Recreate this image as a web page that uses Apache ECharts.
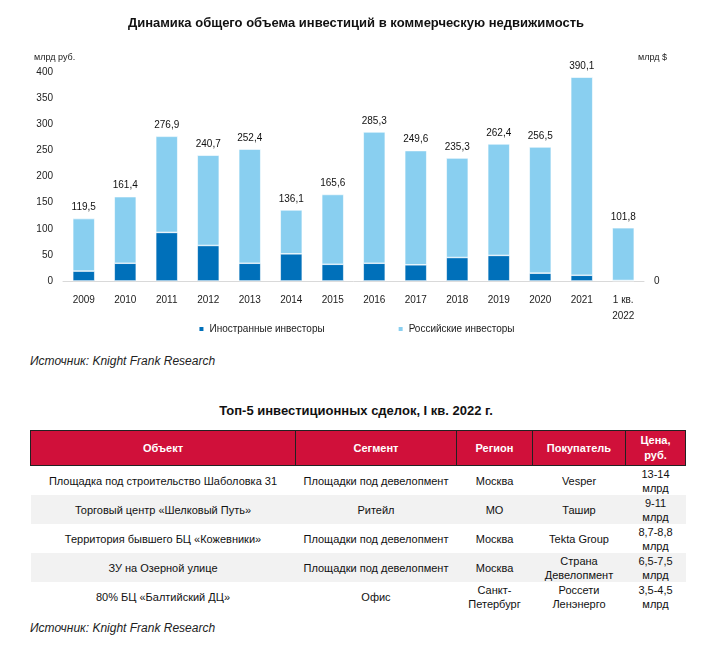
<!DOCTYPE html>
<html>
<head>
<meta charset="utf-8">
<script src="https://cdn.jsdelivr.net/npm/echarts@6/dist/echarts.min.js"></script>
<style>
  html, body { margin: 0; padding: 0; background: #fff; width: 712px; height: 654px; overflow: hidden; font-family: "Liberation Sans", Arial, sans-serif; }
  #chart { position: absolute; left: 0; top: 0; width: 712px; height: 345px; }
  .src { position: absolute; left: 30px; font-style: italic; font-size: 12px; color: #222; }
  #ttitle { position: absolute; left: 0; width: 712px; top: 403px; text-align: center; font-weight: bold; font-size: 13px; color: #111; }
  table { position: absolute; left: 30px; top: 430px; width: 655px; border-collapse: collapse; font-family: "Liberation Sans Narrow", "Arial Narrow", "Liberation Sans", sans-serif; font-size: 11px; color: #111; table-layout: fixed; }
  th { background: #D0103A; color: #fff; font-weight: bold; height: 34px; border: 1px solid #222; padding: 0 2px; line-height: 15px; white-space: pre-line; }
  td { text-align: center; padding: 0 2px; line-height: 14px; white-space: pre-line; }
  tr.r td { height: 29px; }
  tr.alt td { background: #F2F2F2; }
</style>
</head>
<body>
<div id="chart"></div>
<div class="src" style="top:354px;">Источник: Knight Frank Research</div>
<div id="ttitle">Топ-5 инвестиционных сделок, I кв. 2022 г.</div>
<table id="tbl"></table>
<div class="src" style="top:621px;">Источник: Knight Frank Research</div>
<script>
// ---- chart data ----
const categories = ['2009','2010','2011','2012','2013','2014','2015','2016','2017','2018','2019','2020','2021','1 кв.\n2022'];
const totals = [119.5, 161.4, 276.9, 240.7, 252.4, 136.1, 165.6, 285.3, 249.6, 235.3, 262.4, 256.5, 390.1, 101.8];
const foreign = [19, 34, 93, 68, 34, 52, 32, 34, 31, 45, 49, 15, 11, 1];
const russian = totals.map((t, i) => +(t - foreign[i]).toFixed(1));
const yTicks = [0, 50, 100, 150, 200, 250, 300, 350, 400];
const seriesNames = ['Иностранные инвесторы', 'Российские инвесторы'];

// ---- table data ----
const tableHeader = ['Объект', 'Сегмент', 'Регион', 'Покупатель', 'Цена,\nруб.'];
const tableRows = [
  ['Площадка под строительство Шаболовка 31', 'Площадки под девелопмент', 'Москва', 'Vesper', '13-14\nмлрд'],
  ['Торговый центр «Шелковый Путь»', 'Ритейл', 'МО', 'Ташир', '9-11\nмлрд'],
  ['Территория бывшего БЦ «Кожевники»', 'Площадки под девелопмент', 'Москва', 'Tekta Group', '8,7-8,8\nмлрд'],
  ['ЗУ на Озерной улице', 'Площадки под девелопмент', 'Москва', 'Страна\nДевелопмент', '6,5-7,5\nмлрд'],
  ['80% БЦ «Балтийский ДЦ»', 'Офис', 'Санкт-\nПетербург', 'Россети\nЛенэнерго', '3,5-4,5\nмлрд']
];
const colWidths = [265, 161, 76, 93, 60];

// build table
const tbl = document.getElementById('tbl');
let html = '<colgroup>' + colWidths.map(w => '<col style="width:' + w + 'px">').join('') + '</colgroup>';
html += '<tr>' + tableHeader.map(h => '<th>' + h + '</th>').join('') + '</tr>';
tableRows.forEach((row, i) => {
  html += '<tr class="r' + (i % 2 === 1 ? ' alt' : '') + '">' + row.map(c => '<td>' + c + '</td>').join('') + '</tr>';
});
tbl.innerHTML = html;

// chart
const chart = echarts.init(document.getElementById('chart'));
const fmt = v => String(v).replace('.', ',');
chart.setOption({
  animation: false,
  textStyle: { fontFamily: 'Liberation Sans, Arial, sans-serif' },
  title: {
    text: 'Динамика общего объема инвестиций в коммерческую недвижимость',
    left: 'center', top: 12,
    textStyle: { fontSize: 13, fontWeight: 'bold', color: '#111' }
  },
  legend: {
    data: seriesNames,
    top: 319, left: 'center',
    itemWidth: 6, itemHeight: 6, itemGap: 72,
    icon: 'rect',
    textStyle: { fontSize: 10, color: '#222' }
  },
  grid: { left: 63, right: 68, top: 72, bottom: 64 },
  xAxis: {
    type: 'category',
    data: categories,
    axisLine: { lineStyle: { color: '#D9D9D9' } },
    axisTick: { show: false },
    axisLabel: { fontSize: 10, color: '#222', margin: 11, lineHeight: 16 }
  },
  yAxis: [
    {
      type: 'value', min: 0, max: 400, interval: 50,
      axisLine: { show: false }, axisTick: { show: false },
      splitLine: { show: false },
      axisLabel: { fontSize: 10, color: '#222', margin: 10 }
    },
    {
      type: 'value', min: 0, max: 400, interval: 400, position: 'right',
      axisLine: { show: false }, axisTick: { show: false },
      splitLine: { show: false },
      axisLabel: { fontSize: 10, color: '#222', margin: 10, formatter: v => v === 0 ? '0' : '' }
    }
  ],
  graphic: [
    { type: 'text', left: 34, top: 53, style: { text: 'млрд руб.', fontSize: 9, fill: '#222', fontFamily: 'Liberation Sans, Arial' } },
    { type: 'text', left: 638, top: 53, style: { text: 'млрд $', fontSize: 9, fill: '#222', fontFamily: 'Liberation Sans, Arial' } }
  ],
  series: [
    {
      name: seriesNames[0], type: 'bar', stack: 'total', data: foreign,
      barWidth: 22,
      itemStyle: { color: '#0070BA', borderColor: '#fff', borderWidth: 0.6 }
    },
    {
      name: seriesNames[1], type: 'bar', stack: 'total', data: russian,
      barWidth: 22,
      itemStyle: { color: '#89CFF0', borderColor: '#fff', borderWidth: 0.6 },
      label: {
        show: true, position: 'top', distance: 6, fontSize: 10, color: '#111',
        formatter: p => fmt(totals[p.dataIndex])
      }
    }
  ]
});
</script>
</body>
</html>
